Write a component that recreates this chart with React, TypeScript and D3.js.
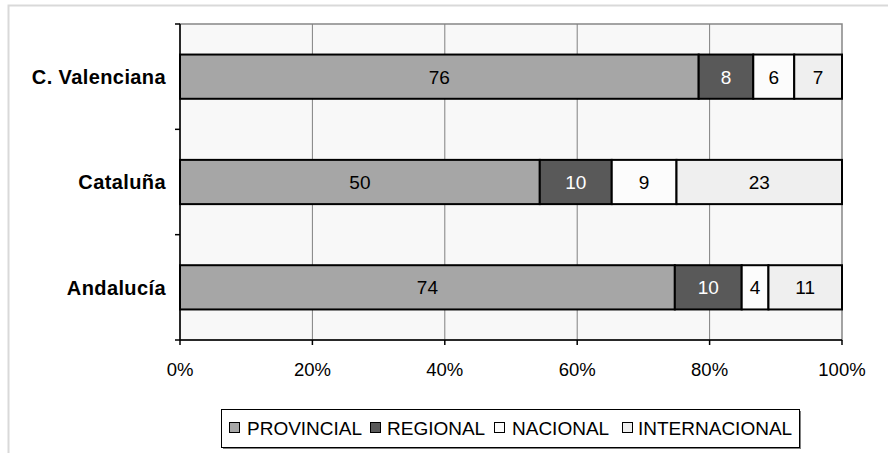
import { useEffect, useRef } from "react";
import { select, scaleLinear, scaleBand, stack, stackOffsetExpand } from "d3";

// datos del gráfico
const regions = ["C. Valenciana", "Cataluña", "Andalucía"];
const series = ["PROVINCIAL", "REGIONAL", "NACIONAL", "INTERNACIONAL"];
const provincial = [76, 50, 74];
const regional = [8, 10, 10];
const nacional = [6, 9, 4];
const internacional = [7, 23, 11];
const xTicks = [0, 0.2, 0.4, 0.6, 0.8, 1];

const fills = ["#a6a6a6", "#595959", "#fcfcfc", "#efefef"];
const labelColors = ["#000", "#fff", "#000", "#000"];

const W = 888,
  H = 453;

const drawChart = (el: SVGSVGElement) => {
  const svg = select(el);
  svg.selectAll("*").remove();

  const marginLeft = 180,
    marginRight = 46,
    marginTop = 24,
    marginBottom = 113;

  const rows = regions.map((r, i) => ({
    region: r,
    PROVINCIAL: provincial[i],
    REGIONAL: regional[i],
    NACIONAL: nacional[i],
    INTERNACIONAL: internacional[i],
  }));
  const stacked = stack<any>().keys(series).offset(stackOffsetExpand)(rows);

  const x = scaleLinear([0, 1], [marginLeft, W - marginRight]);
  const y = scaleBand(regions, [marginTop, H - marginBottom]).paddingInner(0.58).paddingOuter(0.29);
  const band = scaleBand(regions, [marginTop, H - marginBottom]);

  // marco exterior
  svg.append("rect").attr("x", 8.5).attr("y", 5.5).attr("width", W).attr("height", H)
    .attr("fill", "#fff").attr("stroke", "#d9d9d9").attr("stroke-width", 2);

  // fondo del área de trazado
  svg.append("rect").attr("x", x(0)).attr("y", marginTop).attr("width", x(1) - x(0))
    .attr("height", H - marginBottom - marginTop).attr("fill", "#f8f8f8")
    .attr("stroke", "#868686").attr("stroke-width", 1.5);

  // líneas de división
  svg.append("g").selectAll("line").data(xTicks.slice(1, -1)).enter().append("line")
    .attr("x1", (d) => x(d)).attr("x2", (d) => x(d))
    .attr("y1", marginTop).attr("y2", H - marginBottom)
    .attr("stroke", "#808080").attr("stroke-width", 1);

  // barras
  stacked.forEach((s: any, si: number) => {
    svg.append("g").selectAll("rect").data(s).enter().append("rect")
      .attr("x", (d: any) => x(d[0]))
      .attr("y", (d: any) => y(d.data.region) as number)
      .attr("width", (d: any) => x(d[1]) - x(d[0]))
      .attr("height", y.bandwidth())
      .attr("fill", fills[si])
      .attr("stroke", "#000").attr("stroke-width", 2);
  });

  stacked.forEach((s: any, si: number) => {
    svg.append("g").selectAll("text").data(s).enter().append("text")
      .attr("x", (d: any) => (x(d[0]) + x(d[1])) / 2)
      .attr("y", (d: any) => (y(d.data.region) as number) + y.bandwidth() / 2)
      .attr("dy", "0.36em")
      .attr("text-anchor", "middle")
      .attr("font-size", 19)
      .attr("fill", labelColors[si])
      .text((d: any) => d.data[series[si]]);
  });

  // eje izquierdo
  svg.append("line").attr("x1", x(0)).attr("x2", x(0)).attr("y1", marginTop).attr("y2", H - marginBottom)
    .attr("stroke", "#000").attr("stroke-width", 1.5);
  const bounds = [marginTop, ...regions.map((r) => (band(r) as number) + band.bandwidth())];
  svg.append("g").selectAll("line").data(bounds).enter().append("line")
    .attr("x1", x(0) - 5).attr("x2", x(0)).attr("y1", (d) => d).attr("y2", (d) => d)
    .attr("stroke", "#000").attr("stroke-width", 1.5);
  svg.append("g").selectAll("text").data(regions).enter().append("text")
    .attr("x", 166).attr("y", (d) => (y(d) as number) + y.bandwidth() / 2)
    .attr("dy", "0.36em").attr("text-anchor", "end")
    .attr("font-size", 20).attr("font-weight", "bold").attr("letter-spacing", 0.4).text((d) => d);

  // eje inferior
  svg.append("line").attr("x1", x(0)).attr("x2", x(1)).attr("y1", H - marginBottom).attr("y2", H - marginBottom)
    .attr("stroke", "#000").attr("stroke-width", 1.5);
  svg.append("g").selectAll("line").data(xTicks).enter().append("line")
    .attr("x1", (d) => x(d)).attr("x2", (d) => x(d))
    .attr("y1", H - marginBottom).attr("y2", H - marginBottom + 5)
    .attr("stroke", "#000").attr("stroke-width", 1.5);
  svg.append("g").selectAll("text").data(xTicks).enter().append("text")
    .attr("x", (d) => x(d)).attr("y", 369).attr("dy", "0.36em")
    .attr("text-anchor", "middle").attr("font-size", 18.5)
    .text((d) => `${Math.round(d * 100)}%`);

  // leyenda
  const lg = svg.append("g");
  lg.append("rect").attr("x", 223).attr("y", 411).attr("width", 578).attr("height", 38).attr("fill", "#808080");
  lg.append("rect").attr("x", 221.5).attr("y", 409.5).attr("width", 578).attr("height", 38)
    .attr("fill", "#fff").attr("stroke", "#000").attr("stroke-width", 1);
  const markX = [229, 370, 494, 622];
  const textX = [247, 387, 512, 638];
  series.forEach((s, i) => {
    lg.append("rect").attr("x", markX[i] + 0.5).attr("y", 422.5).attr("width", 10).attr("height", 10)
      .attr("fill", fills[i]).attr("stroke", "#000").attr("stroke-width", 1);
    lg.append("text").attr("x", textX[i]).attr("y", 428).attr("dy", "0.36em")
      .attr("font-size", 19).text(s);
  });
};

export default function App() {
  const ref = useRef<SVGSVGElement>(null);
  useEffect(() => {
    if (ref.current) drawChart(ref.current);
  }, []);
  return (
    <svg
      ref={ref}
      width={W}
      height={H}
      style={{ position: "absolute", left: 0, top: 0, fontFamily: "'Liberation Sans', Arial, sans-serif" }}
    />
  );
}
